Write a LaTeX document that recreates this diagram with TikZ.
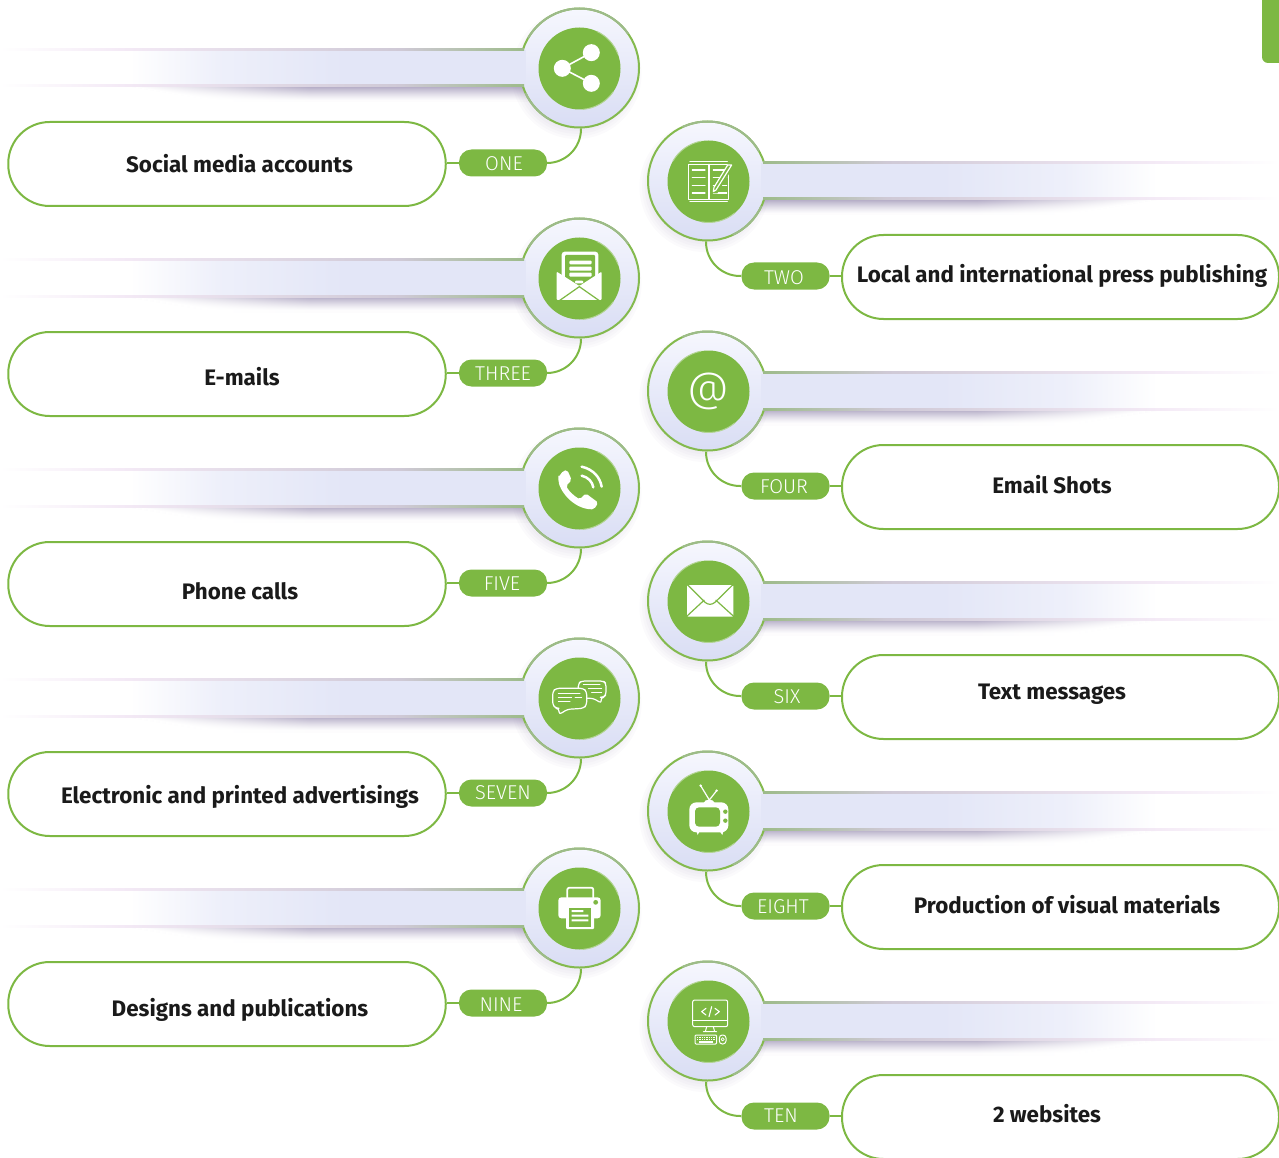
\documentclass[tikz,border=0pt]{standalone}
\usepackage{fontspec}
\setmainfont{Fira Sans}
\newfontfamily\firalight{Fira Sans Light}
\usetikzlibrary{calc}
\definecolor{gr}{HTML}{7DB843}
\definecolor{grl}{HTML}{84BA4E}
\definecolor{grg}{HTML}{9DBB8A}
\definecolor{rim}{HTML}{B4D596}
\definecolor{ringt}{HTML}{F6F7FE}
\definecolor{ringb}{HTML}{D9DDF4}
\definecolor{barc}{HTML}{E3E6F7}
\definecolor{sh}{HTML}{A9A0BE}
\definecolor{pk}{HTML}{F4EAF6}
\definecolor{lnm}{HTML}{CFC9D6}
\definecolor{ink}{HTML}{1A1A1A}
\tikzset{
  ring/.style={circle,minimum size=119pt,inner sep=0pt,line width=2pt,draw=grl,top color=ringt,bottom color=ringb},
  disc/.style={circle,minimum size=82pt,inner sep=0pt,fill=gr},
  bigbox/.style={rectangle,rounded corners=41.5pt,minimum height=84pt,line width=2pt,draw=gr,fill=white,inner sep=0pt},
  pill/.style={rectangle,rounded corners=12.5pt,minimum height=27pt,minimum width=88pt,fill=gr,inner sep=0pt},
  pilltext/.style={text=white,inner sep=0pt,font=\fontsize{20}{22}\firalight},
  link/.style={line width=2pt,draw=gr},
  label/.style={inner sep=0pt,text=ink,font=\fontsize{22.4}{26}\selectfont\bfseries},
  iw/.style={draw=white,line width=1.6pt,line cap=round,line join=round},
  icon/.style={x=0.3333pt,y=-0.3333pt}
}
% #1 id, #2 ring centre x, #3 ring centre y, #4 pill text, #5 pill text position, #6 label, #7 label x, #8 label y
\newcommand{\leftrow}[8]{
  \foreach \k in {0,...,14}{
    \pgfmathsetmacro\pc{max(0,92*(1-\k/15)^1.3)}
    \pgfmathsetmacro\xs{130+\k*6}
    \fill[left color=white,right color=sh!\pc!white] (\xs,#3+18.5+\k) rectangle (310,#3+20+\k);
    \fill[left color=sh!\pc!white,right color=sh!\pc!white] (310,#3+18.5+\k) rectangle (530,#3+20+\k);
  }
  \foreach \j in {0,...,9}{\fill[sh,opacity=.05] (#2-3,#3+6) circle ({65-\j*2.6});}
  \node[ring] (c#1) at (#2,#3) {};
  \draw[line width=2pt,draw=grg] ($(c#1)+(-35:59.5)$) arc (-35:-150:59.5);
  \draw[line width=2pt,draw=grg] ($(c#1)+(155:59.5)$) arc (155:120:59.5);
  \fill[left color=white,right color=barc!62!white] (130,#3-17.5) rectangle (220,#3+18);
  \fill[left color=barc!62!white,right color=barc] (220,#3-17.5) rectangle (345,#3+18);
  \fill[barc] (345,#3-17.5) rectangle (526,#3+18);
  \foreach \yy in {-18.5,18}{
    \fill[left color=white,right color=pk] (0,#3+\yy-1) rectangle (120,#3+\yy+1);
    \fill[left color=pk,right color=lnm] (120,#3+\yy-1) rectangle (400,#3+\yy+1);
    \fill[left color=lnm,right color=grg] (400,#3+\yy-1) rectangle (524,#3+\yy+1);
  }
  \node[disc] (d#1) at (#2,#3+.5) {};
  \draw[line width=1pt,draw=rim] ($(d#1)+(-65:41)$) arc (-65:-20:41);
  \draw[line width=1pt,draw=rim] ($(d#1)+(35:41)$) arc (35:85:41);
  \node[bigbox,minimum width=437.5pt] (b#1) at (227,#3+96) {};
  \node[pill] (p#1) at (503,#3+95) {};
  \node[pilltext] (n#1) at #5 {#4};
  \draw[link] (b#1.east |- p#1) -- (p#1.west);
  \draw[link,rounded corners=34pt] (p#1.east) -| ([xshift=1.5pt]c#1.south);
  \node[label] (t#1) at (#7,#8) {#6};
}
\newcommand{\rightrow}[8]{
  \foreach \k in {0,...,14}{
    \pgfmathsetmacro\pc{max(0,92*(1-\k/15)^1.3)}
    \pgfmathsetmacro\xs{1157-\k*6}
    \fill[left color=sh!\pc!white,right color=white] (977,#3+18.5+\k) rectangle (\xs,#3+20+\k);
    \fill[left color=sh!\pc!white,right color=sh!\pc!white] (757,#3+18.5+\k) rectangle (977,#3+20+\k);
  }
  \foreach \j in {0,...,9}{\fill[sh,opacity=.05] (#2-3,#3+6) circle ({65-\j*2.6});}
  \node[ring] (c#1) at (#2,#3) {};
  \draw[line width=2pt,draw=grg] ($(c#1)+(-30:59.5)$) arc (-30:-115:59.5);
  \draw[line width=2pt,draw=grg] ($(c#1)+(25:59.5)$) arc (25:65:59.5);
  \fill[left color=barc!62!white,right color=white] (1067,#3-17.5) rectangle (1157,#3+18);
  \fill[left color=barc,right color=barc!62!white] (942,#3-17.5) rectangle (1067,#3+18);
  \fill[barc] (761,#3-17.5) rectangle (942,#3+18);
  \foreach \yy in {-18.5,18}{
    \fill[left color=pk,right color=white] (1159,#3+\yy-1) rectangle (1279,#3+\yy+1);
    \fill[left color=lnm,right color=pk] (887,#3+\yy-1) rectangle (1159,#3+\yy+1);
    \fill[left color=grg,right color=lnm] (763,#3+\yy-1) rectangle (887,#3+\yy+1);
  }
  \node[disc] (d#1) at (#2+1,#3+.5) {};
  \draw[line width=1pt,draw=rim] ($(d#1)+(-150:41)$) arc (-150:-100:41);
  \draw[line width=1pt,draw=rim] ($(d#1)+(50:41)$) arc (50:100:41);
  \node[bigbox,minimum width=437pt] (b#1) at (1060.5,#3+96) {};
  \node[pill] (p#1) at (785.5,#3+95) {};
  \node[pilltext] (n#1) at #5 {#4};
  \draw[link] (p#1.east) -- (b#1.west |- p#1);
  \draw[link,rounded corners=34pt] ([xshift=-1.5pt]c#1.south) |- (p#1.west);
  \node[label] (t#1) at (#7,#8) {#6};
}
\begin{document}
\begin{tikzpicture}[x=1pt,y=-1pt]
\useasboundingbox (0,0) rectangle (1279,1158);
\clip (0,0) rectangle (1279,1158);
\fill[gr,rounded corners=6pt] (1262,-10) rectangle (1290,63);

\leftrow{1}{579.5}{68}{ONE}{(504,163.5)}{Social media accounts}{239.5}{164}
\rightrow{2}{707.5}{181}{TWO}{(784,278)}{Local and international press publishing}{1062}{276}
\leftrow{3}{579.5}{278}{THREE}{(503,374)}{E-mails}{242}{377}
\rightrow{4}{707.5}{391}{FOUR}{(784,487)}{Email Shots}{1052}{485}
\leftrow{5}{579.5}{488}{FIVE}{(502,584)}{Phone calls}{240}{591}
\rightrow{6}{707.5}{601}{SIX}{(787,697)}{Text messages}{1052}{694}
\leftrow{7}{579.5}{698}{SEVEN}{(503,793)}{Electronic and printed advertisings}{240}{797}
\rightrow{8}{707.5}{811}{EIGHT}{(783,907)}{Production of visual materials}{1067}{905}
\leftrow{9}{579.5}{908}{NINE}{(501,1005)}{Designs and publications}{240}{1010}
\rightrow{10}{707.5}{1021}{TEN}{(781,1116)}{2 websites}{1047}{1114}

% share
\begin{scope}[shift={(400,0)},icon]
  \draw[iw] (487,205) -- (574,158) (487,205) -- (574,250);
  \fill[white] (574,158) circle (8.5pt) (487,205) circle (8.5pt) (574,250) circle (8.5pt);
\end{scope}
% press
\begin{scope}[shift={(630,110)},icon]
  \draw[iw,line width=1.2pt] (175,163) rectangle (295,268) (237,163) -- (237,268) (180,155) -- (292,155) (180,275) -- (292,275);
  \draw[iw,line width=1.2pt] (187,180)--(225,180) (187,203)--(225,203) (187,226)--(225,226) (187,249)--(225,249);
  \draw[iw,line width=1.2pt] (250,180)--(290,180) (250,203)--(290,203) (250,226)--(290,226) (250,249)--(290,249);
  \fill[gr] (295,160) -- (310,170) -- (262,250) -- (245,250) -- cycle;
  \draw[iw,line width=1.2pt] (293,165) -- (305,165) -- (258,240) -- (250,245) -- (252,232) -- cycle;
\end{scope}
% email + document
\begin{scope}[shift={(530,230)},icon]
  \fill[white,rounded corners=3pt] (95,65) rectangle (205,170);
  \fill[gr,rounded corners=1pt] (105,75) rectangle (195,170);
  \fill[white,rounded corners=1pt] (118,92) rectangle (185,103) (118,110) rectangle (185,122) (118,128) rectangle (185,140) (135,152) rectangle (160,160);
  \fill[white,rounded corners=1pt] (80,125) -- (148,168) -- (215,125) -- (215,210) -- (80,210) -- cycle;
  \draw[gr,line width=1.2pt] (88,212) -- (148,170) -- (208,212);
\end{scope}
% at sign
\node[text=white,inner sep=0pt,font=\fontsize{41}{44}\firalight] (at4) at (708,391) {@};
% phone
\begin{scope}[shift={(530,440)},icon]
  \fill[white,rounded corners=2pt] (85,112) -- (100,92) -- (112,90) -- (125,120) -- (108,138) .. controls (118,155) and (135,170) .. (150,178) -- (167,160) -- (205,188) -- (192,208) .. controls (130,208) and (85,150) .. (85,112) -- cycle;
  \draw[iw,line width=2.5pt] (155,107) .. controls (175,112) and (187,125) .. (190,142);
  \draw[iw,line width=2.5pt] (155,80) .. controls (190,88) and (210,112) .. (215,140);
\end{scope}
% chat
\begin{scope}[shift={(530,650)},icon]
  \draw[iw,line width=1.2pt,rounded corners=3pt] (155,93) -- (220,93) -- (228,100) -- (228,135) -- (220,142) -- (212,142) -- (215,160) -- (190,145) -- (155,145) -- (145,135) -- (145,100) -- cycle;
  \draw[iw,line width=1pt] (160,104)--(210,104) (175,115)--(215,115) (185,126)--(215,126);
  \fill[gr,rounded corners=3pt] (68,115) rectangle (170,175);
  \draw[iw,line width=1.2pt,rounded corners=3pt] (78,115) -- (160,115) -- (170,125) -- (170,165) -- (160,175) -- (112,178) -- (87,194) -- (87,175) -- (78,175) -- (68,165) -- (68,125) -- cycle;
  \draw[iw,line width=1pt] (85,130)--(150,130) (85,143)--(125,143) (135,143)--(155,143) (85,155)--(120,155);
\end{scope}
% printer
\begin{scope}[shift={(530,860)},icon]
  \draw[iw,line width=1.8pt,rounded corners=2pt] (112,113) -- (112,83) -- (190,83) -- (190,113);
  \fill[white,rounded corners=3pt] (85,112) rectangle (212,175);
  \fill[gr] (197,127) circle (2.4pt);
  \fill[white,rounded corners=1pt] (108,138) rectangle (192,207);
  \fill[gr] (116,145) rectangle (184,200);
  \fill[white] (125,150) rectangle (160,156) (125,164) rectangle (175,170) (125,178) rectangle (175,184);
\end{scope}
% envelope
\begin{scope}[shift={(660,550)},icon]
  \fill[white,rounded corners=1pt] (81,105) rectangle (220,200);
  \draw[gr,line width=1.2pt] (81,103) -- (135,157) .. controls (145,165) and (155,165) .. (165,157) -- (220,103);
  \draw[gr,line width=1.2pt] (79,200) -- (133,150) (222,200) -- (167,150);
\end{scope}
% tv
\begin{scope}[shift={(660,770)},icon]
  \draw[iw,line width=1.2pt] (148,90) -- (122,47) (148,90) -- (170,62);
  \fill[white] (122,47) circle (1.4pt) (170,62) circle (1.4pt);
  \fill[white] (130,100) .. controls (135,85) and (160,85) .. (165,100) -- cycle;
  \fill[white] (110,185) -- (113,195) -- (118,185) -- cycle (180,185) -- (187,195) -- (190,185) -- cycle;
  \fill[white,rounded corners=7pt] (88,97) rectangle (205,187);
  \fill[gr,rounded corners=4pt] (105,112) rectangle (180,170);
  \fill[gr] (196,125) circle (2.2pt) (196,152) circle (2.2pt);
\end{scope}
% computer
\begin{scope}[shift={(660,980)},icon]
  \draw[iw,line width=1pt,rounded corners=2pt] (98,60) rectangle (203,140);
  \draw[iw,line width=1pt] (98,122) -- (203,122);
  \draw[iw,line width=1.1pt] (138,85) -- (125,95) -- (138,105) (165,85) -- (178,95) -- (165,105) (155,80) -- (147,110);
  \draw[iw,line width=1pt] (140,140) -- (136,155) (160,140) -- (164,155) (130,155) -- (170,155);
  \draw[iw,line width=1pt,rounded corners=1pt] (105,165) rectangle (170,192);
  \foreach \ky in {172,179}{\foreach \kx in {113,120,...,162}{\fill[white] (\kx-2,\ky-2) rectangle (\kx+2,\ky+2);}}
  \fill[white] (118,184) rectangle (158,188);
  \draw[iw,line width=1pt,rounded corners=3pt] (178,165) rectangle (198,192);
  \draw[iw,line width=.8pt] (188,178) circle (1.6pt);
\end{scope}
\end{tikzpicture}
\end{document}
